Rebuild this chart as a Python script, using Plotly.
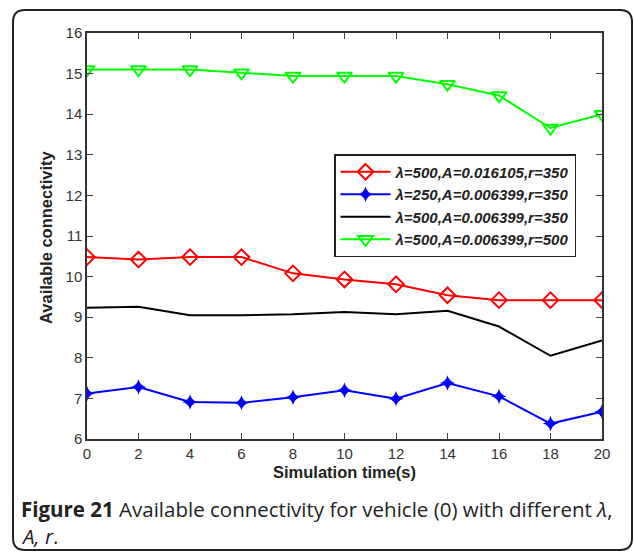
import plotly.graph_objects as go

time_s = [0, 2, 4, 6, 8, 10, 12, 14, 16, 18, 20]
red_vals = [10.48, 10.42, 10.48, 10.48, 10.08, 9.93, 9.81, 9.54, 9.42, 9.42, 9.42]
blue_vals = [7.12, 7.28, 6.91, 6.89, 7.03, 7.20, 6.99, 7.38, 7.05, 6.38, 6.67]
black_vals = [9.23, 9.26, 9.05, 9.05, 9.07, 9.13, 9.07, 9.16, 8.77, 8.05, 8.43]
green_vals = [15.10, 15.10, 15.10, 15.02, 14.94, 14.94, 14.94, 14.74, 14.46, 13.66, 14.0]

names = ["λ=500,A=0.016105,r=350", "λ=250,A=0.006399,r=350",
         "λ=500,A=0.006399,r=350", "λ=500,A=0.006399,r=500"]
x_ticks = [0, 2, 4, 6, 8, 10, 12, 14, 16, 18, 20]
y_ticks = [6, 7, 8, 9, 10, 11, 12, 13, 14, 15, 16]

fig = go.Figure()
fig.add_trace(go.Scatter(x=time_s, y=red_vals, name=names[0], mode="lines+markers",
                         line=dict(color="#ff0000", width=2),
                         marker=dict(symbol="diamond-open", size=12, color="#ff0000", line=dict(width=2))))
fig.add_trace(go.Scatter(x=time_s, y=blue_vals, name=names[1], mode="lines+markers",
                         line=dict(color="#0000ff", width=2),
                         marker=dict(symbol="star-diamond", size=11, color="#0000ff")))
fig.add_trace(go.Scatter(x=time_s, y=black_vals, name=names[2], mode="lines",
                         line=dict(color="#000000", width=2)))
fig.add_trace(go.Scatter(x=time_s, y=green_vals, name=names[3], mode="lines+markers",
                         line=dict(color="#00ff00", width=2),
                         marker=dict(symbol="triangle-down-open", size=13, color="#00ff00", line=dict(width=2))))

L, R, T, B = 87, 602, 33, 439
W, H = 634, 553
pw, ph = R - L, B - T
def px(x): return (x - L) / pw
def py(y): return (B - y) / ph

# rounded frame
x0, x1, y0, y1, rr = 13, 632, 10, 550, 12
path = (f"M {px(x0+rr)},{py(y1)} Q {px(x0)},{py(y1)} {px(x0)},{py(y1-rr)} "
        f"L {px(x0)},{py(y0+rr)} Q {px(x0)},{py(y0)} {px(x0+rr)},{py(y0)} "
        f"L {px(x1-rr)},{py(y0)} Q {px(x1)},{py(y0)} {px(x1)},{py(y0+rr)} "
        f"L {px(x1)},{py(y1-rr)} Q {px(x1)},{py(y1)} {px(x1-rr)},{py(y1)} Z")

fig.update_layout(
    width=W, height=H,
    margin=dict(l=L, r=W - R, t=T, b=H - B),
    paper_bgcolor="white", plot_bgcolor="white",
    font=dict(family="Liberation Sans, Arial, sans-serif", color="#222222", size=15),
    showlegend=True,
    legend=dict(x=px(334), y=py(154), xanchor="left", yanchor="top",
                bordercolor="#222222", borderwidth=1.5, bgcolor="white",
                font=dict(size=15, family="Liberation Sans, Arial", color="#222222", style="italic", weight="bold"),
                itemwidth=50, tracegroupgap=0),
    shapes=[dict(type="path", xref="paper", yref="paper", path=path,
                 line=dict(color="#222222", width=2))],
    annotations=[
        dict(text="<b>Figure 21</b> Available connectivity for vehicle (0) with different <i>λ</i>,",
             xref="paper", yref="paper", x=px(19), y=py(509), xanchor="left", yanchor="middle",
             showarrow=False, font=dict(size=20.5, family="Open Sans, Noto Sans", color="#222222")),
        dict(text="<i>A, r</i>.",
             xref="paper", yref="paper", x=px(19), y=py(536), xanchor="left", yanchor="middle",
             showarrow=False, font=dict(size=20.5, family="Open Sans, Noto Sans", color="#222222")),
        dict(text="<b>Simulation time(s)</b>", xref="paper", yref="paper",
             x=px(344), y=py(472), xanchor="center", yanchor="middle", showarrow=False,
             font=dict(size=16.5, color="#222222")),
        dict(text="<b>Available connectivity</b>", xref="paper", yref="paper", textangle=-90,
             x=px(46), y=py(237), xanchor="center", yanchor="middle", showarrow=False,
             font=dict(size=16.5, color="#222222")),
    ],
)
fig.update_xaxes(range=[0, 20], tickvals=x_ticks, ticks="inside", ticklen=6,
                 showline=True, linecolor="#333333", linewidth=1.5, mirror="ticks",
                 showgrid=False, zeroline=False, automargin=False,
                 tickfont=dict(size=15, color="#333333"))
fig.update_yaxes(range=[6, 16], tickvals=y_ticks, ticks="inside", ticklen=6,
                 showline=True, linecolor="#333333", linewidth=1.5, mirror="ticks",
                 showgrid=False, zeroline=False, automargin=False,
                 tickfont=dict(size=15, color="#333333"))

fig.write_html("out.html", config={"displayModeBar": False},
               post_script="document.body.style.margin='0';document.body.style.overflow='hidden';")
